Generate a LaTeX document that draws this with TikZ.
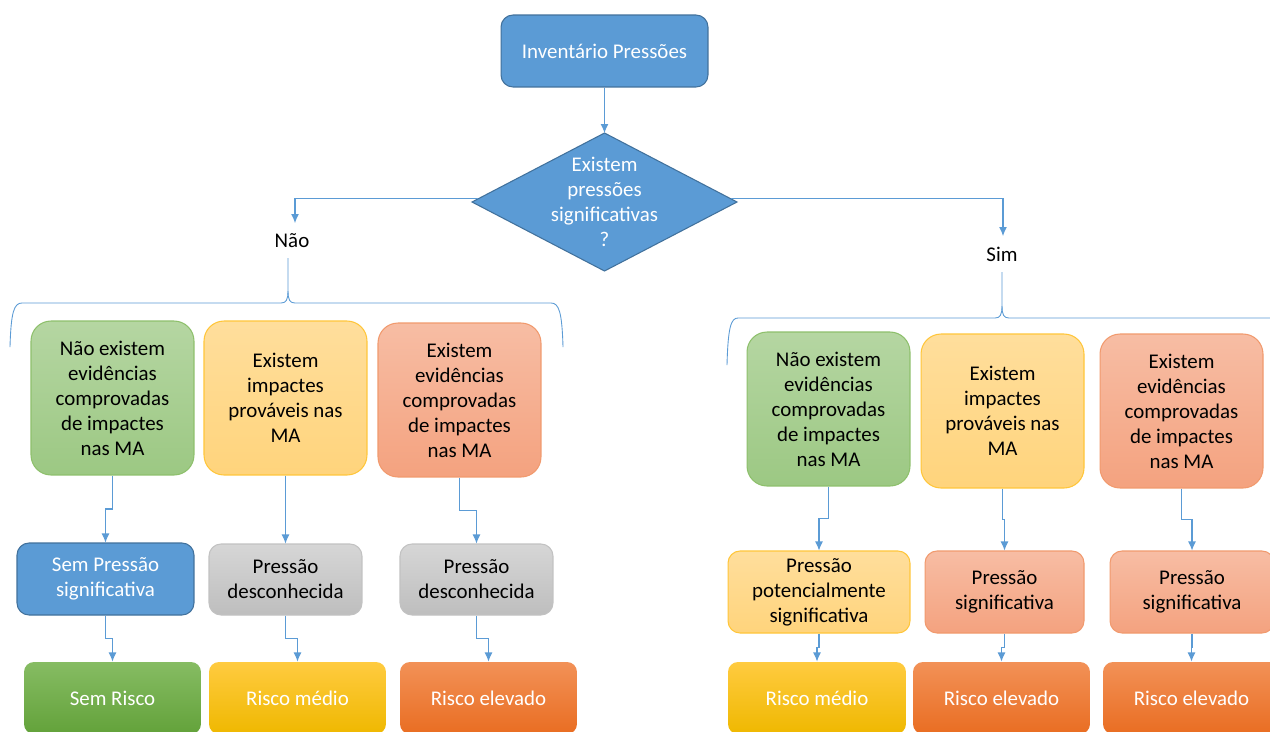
\documentclass[tikz,border=0pt]{standalone}
\usepackage{fontspec}
\setmainfont{Carlito}
\usetikzlibrary{arrows.meta,calc}
\definecolor{cblue}{HTML}{5B9BD5}
\definecolor{cbluedk}{HTML}{41719C}
\definecolor{gTop}{HTML}{B5D6A2}
\definecolor{gBot}{HTML}{9CC883}
\definecolor{gLine}{HTML}{8EC06C}
\definecolor{yTop}{HTML}{FFDE9C}
\definecolor{yBot}{HTML}{FFD47C}
\definecolor{yLine}{HTML}{FFC63A}
\definecolor{sTop}{HTML}{F7BDA4}
\definecolor{sBot}{HTML}{F4A27F}
\definecolor{sLine}{HTML}{F19A6E}
\definecolor{qTop}{HTML}{D6D6D6}
\definecolor{qBot}{HTML}{BEBEBE}
\definecolor{qLine}{HTML}{C2C2C2}
\definecolor{GTop}{HTML}{86BC63}
\definecolor{GBot}{HTML}{63A23A}
\definecolor{YTop}{HTML}{FFCB40}
\definecolor{YBot}{HTML}{EFB800}
\definecolor{OTop}{HTML}{F29157}
\definecolor{OBot}{HTML}{E96D22}
\begin{document}
\begin{tikzpicture}[x=0.02cm,y=-0.02cm,
  txt/.style={font=\fontsize{11.9pt}{14.2pt}\selectfont, align=center, inner sep=0pt},
  box/.style={txt, rounded corners=#1, line width=0.6pt},
  bigbox/.style={box=0.4cm, minimum width=3.26cm, minimum height=3.08cm},
  greenbox/.style={bigbox, top color=gTop, bottom color=gBot, draw=gLine},
  yellowbox/.style={top color=yTop, bottom color=yBot, draw=yLine},
  salmonbox/.style={top color=sTop, bottom color=sBot, draw=sLine},
  graybox/.style={box=0.24cm, minimum width=3.06cm, minimum height=1.42cm, top color=qTop, bottom color=qBot, draw=qLine},
  bluebox/.style={box=0.24cm, fill=cblue, draw=cbluedk, text=white},
  riskbox/.style={box=0.2cm, minimum height=1.44cm, text=white, draw=none},
  rgreen/.style={riskbox, top color=GTop, bottom color=GBot},
  ryellow/.style={riskbox, top color=YTop, bottom color=YBot},
  rorange/.style={riskbox, top color=OTop, bottom color=OBot},
  conn/.style={draw=cblue, line width=0.6pt, -{Latex[length=1.8mm,width=1.6mm]}},
  brace/.style={draw=cblue, line width=0.5pt}
]
\clip (0,0) rectangle (1270,731);
\fill[white] (0,0) rectangle (1270,731);

% top box
\node[bluebox, minimum width=4.14cm, minimum height=1.44cm] (top) at (604.5,51) {Inventário Pressões};

% diamond
\coordinate (dT) at (604.5,133);
\coordinate (dR) at (737,202);
\coordinate (dB) at (604.5,271);
\coordinate (dL) at (472,202);
\filldraw[fill=cblue, draw=cbluedk, line width=0.6pt] (dT) -- (dR) -- (dB) -- (dL) -- cycle;
\node[txt, text=white] (dq) at (604.5,202) {Existem\\pressões\\significativas\\?};

\draw[conn] (top.south) -- (dT);

% branches
\coordinate (dLo) at (478,198.5);
\coordinate (dRo) at (731,198.5);
\coordinate (naoIn) at (295,223);
\coordinate (simIn) at (1003,236);
\draw[conn] (dLo) -| (naoIn);
\draw[conn] (dRo) -| (simIn);
\node[txt] (nao) at (292,241) {Não};
\node[txt] (sim) at (1002,254) {Sim};

% braces
\draw[brace] (288,258) -- (288,291) .. controls (288,300) and (286,303) .. (281,303) -- (22,303) .. controls (14,303) and (11,312) .. (10,347);
\draw[brace] (288,291) .. controls (288,300) and (290,303) .. (295,303) -- (551,303) .. controls (559,303) and (562,312) .. (563,347);
\draw[brace] (1002,272) -- (1002,306) .. controls (1002,315) and (1000,318) .. (995,318) -- (738,318) .. controls (731,318) and (728,327) .. (727,365);
\draw[brace] (1002,306) .. controls (1002,315) and (1004,318) .. (1009,318) -- (1290,318);

% row 1 left
\node[greenbox] (g1) at (112.5,398) {Não existem\\evidências\\comprovadas\\de impactes\\nas MA};
\node[bigbox, yellowbox] (y1) at (285.5,398) {Existem\\impactes\\prováveis nas\\MA};
\node[bigbox, salmonbox] (s1) at (459.5,400) {Existem\\evidências\\comprovadas\\de impactes\\nas MA};

% row 1 right
\node[greenbox] (G1) at (828.5,409) {Não existem\\evidências\\comprovadas\\de impactes\\nas MA};
\node[bigbox, yellowbox] (Y1) at (1002.5,411) {Existem\\impactes\\prováveis nas\\MA};
\node[bigbox, salmonbox] (S1) at (1181.5,411) {Existem\\evidências\\comprovadas\\de impactes\\nas MA};

% row 2 left
\node[bluebox, minimum width=3.54cm, minimum height=1.44cm] (b2) at (105.5,579) {Sem Pressão\\significativa};
\node[graybox] (q2a) at (285.5,579.5) {Pressão\\desconhecida};
\node[graybox] (q2b) at (476.5,579.5) {Pressão\\desconhecida};

% row 2 right
\node[box=0.24cm, yellowbox, minimum width=3.64cm, minimum height=1.64cm] (P2) at (819,592) {Pressão\\potencialmente\\significativa};
\node[box=0.24cm, salmonbox, minimum width=3.18cm, minimum height=1.64cm] (Q2) at (1004.5,592) {Pressão\\significativa};
\node[box=0.24cm, salmonbox, minimum width=3.28cm, minimum height=1.64cm] (R2) at (1192,592) {Pressão\\significativa};

% row 3 left
\node[rgreen, minimum width=3.54cm] (r3a) at (112.5,698) {Sem Risco};
\node[ryellow, minimum width=3.54cm] (r3b) at (297.5,698) {Risco médio};
\node[rorange, minimum width=3.54cm] (r3c) at (488.5,698) {Risco elevado};

% row 3 right
\node[ryellow, minimum width=3.56cm] (R3a) at (817,698) {Risco médio};
\node[rorange, minimum width=3.54cm] (R3b) at (1001.5,698) {Risco elevado};
\node[rorange, minimum width=3.54cm] (R3c) at (1191.5,698) {Risco elevado};

% connectors between rows
\foreach \a/\b in {g1/b2, y1/q2a, s1/q2b, G1/P2, Y1/Q2, S1/R2,
                   b2/r3a, q2a/r3b, q2b/r3c, P2/R3a, Q2/R3b, R2/R3c}{
  \draw[conn] (\a.south) |- ($(\a.south)!0.5!(\b.north)$) -| (\b.north);
}
\end{tikzpicture}
\end{document}
